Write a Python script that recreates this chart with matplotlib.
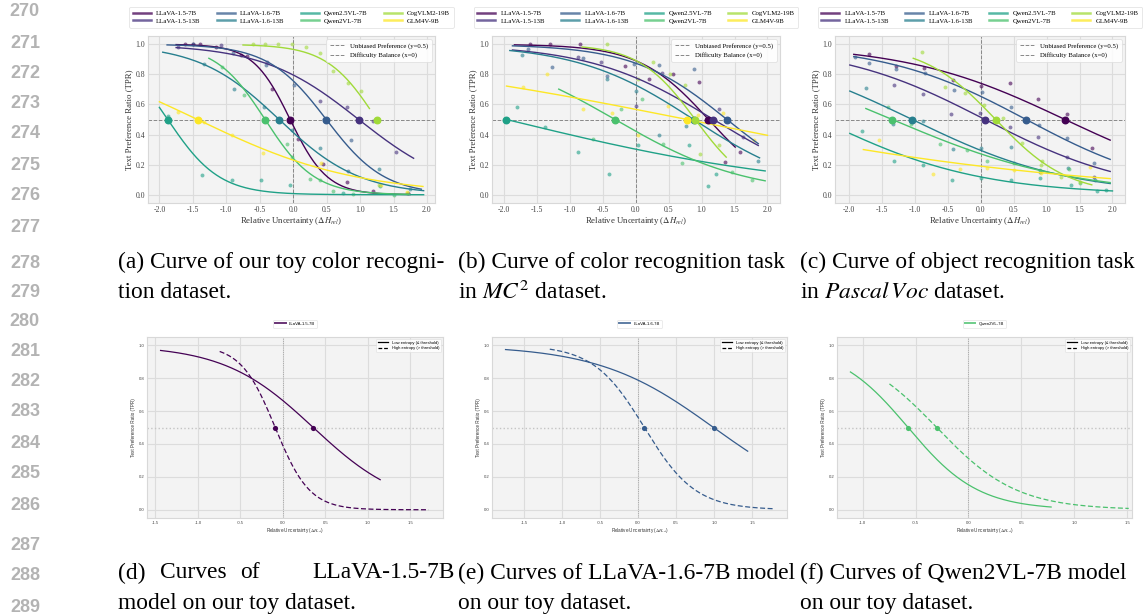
import numpy as np
import matplotlib
matplotlib.use("Agg")
import matplotlib.pyplot as plt
from matplotlib.lines import Line2D

W, H = 1145, 615

plt.rcParams["font.serif"] = ["Liberation Serif", "DejaVu Serif"]
plt.rcParams["mathtext.fontset"] = "stix"

MODELS = ["LLaVA-1.5-7B", "LLaVA-1.5-13B", "LLaVA-1.6-7B", "LLaVA-1.6-13B",
          "Qwen2.5VL-7B", "Qwen2VL-7B", "CogVLM2-19B", "GLM4V-9B"]
COLORS = [plt.cm.viridis(v) for v in np.linspace(0, 1, len(MODELS))]

# fitted logistic curves: 50% point, slope, fitted x-range
A_MID = [-0.045, 0.98, 0.495, -0.21, -1.875, -0.42, 1.25, -1.43]
A_SLOPE = [3.6, 1.39, 2.3, 1.66, 2.6, 2.71, 2.68, 0.844]
A_XMIN = [-1.75, -1.75, -1.885, -1.95, -2.0, -1.26, -0.75, -2.0]
A_XMAX = [1.75, 1.8, 1.915, 1.95, 1.95, 1.74, 1.14, 1.94]

B_MID = [1.105, 1.18, 1.385, 0.88, -1.96, -0.313, 0.904, 0.778]
B_SLOPE = [1.9, 1.06, 1.4, 1.125, 0.426, 1.003, 2.34, 0.349]
B_XMIN = [-1.84, -1.87, -1.87, -1.91, -1.96, -1.167, -0.813, -1.96]
B_XMAX = [1.51, 1.86, 1.86, 1.88, 1.965, 1.965, 1.374, 2.0]

C_MID = [1.28, 0.066, 0.689, -1.038, -2.44, -1.342, 0.228, -4.27]
C_SLOPE = [0.822, 0.894, 0.925, 0.84, 0.823, 0.735, 1.82, 0.34]
C_XMIN = [-1.925, -1.985, -1.925, -1.985, -1.985, -1.742, -1.023, -1.78]
C_XMAX = [1.965, 1.965, 1.965, 1.965, 2.0, 1.965, 1.686, 1.965]

# per-bin observations (toy color dataset)
A_PX = [[-1.62, -1.5, -1.4, -1.16, -0.785, -0.685, -0.32, 0.07, 0.45, 0.8, 1.19],
        [-1.72, -1.075, -0.385, 0.4, 0.8, 1.19, 1.54, 1.71],
        [-1.5, -0.895, -0.41, 0.015, 0.465, 0.865, 0.815],
        [-1.335, -0.885, -0.435, -0.02, 0.4, 1.29, 1.74],
        [-1.875, -1.37, -0.92, -0.485, -0.045, 0.75, 1.3],
        [-1.06, -0.735, -0.085, -0.02, 0.25, 0.4, 0.59, 0.89, 1.5],
        [-0.595, -0.42, -0.22, -0.02, 0.19, 0.4, 0.6, 0.815, 1.02, 1.28, 1.7],
        [-1.72, -1.335, -0.91, -0.45, 0.415, 1.31, 1.695]]
A_PY = [[1.0, 1.0, 1.0, 0.985, 0.93, 0.92, 0.70, 0.37, 0.205, 0.085, 0.025],
        [0.98, 0.995, 0.88, 0.625, 0.58, 0.49, 0.285, 0.01],
        [1.0, 0.945, 0.86, 0.73, 0.505, 0.365, 0.16],
        [0.87, 0.705, 0.585, 0.43, 0.31, 0.17, 0.035],
        [0.52, 0.13, 0.095, 0.095, 0.067, 0.01, 0.06],
        [0.85, 0.66, 0.335, 0.25, 0.107, 0.1, 0.025, 0.005, 0.0],
        [1.0, 1.0, 1.0, 1.0, 0.985, 0.945, 0.82, 0.74, 0.69, 0.065, 0.01],
        [0.55, 0.485, 0.40, 0.275, 0.21, 0.065, 0.015]]

# MC^2 color recognition
B_PX = [[-1.6, -1.3, -0.85, -0.167, 0.2, 0.56, 0.955, 1.36, 1.59],
        [-0.88, -0.52, 0.005, 0.4, 1.26, 1.63],
        [-1.64, -1.27, -0.8, -0.43, -0.03, 0.35, 0.88],
        [-1.73, -0.43, 0.005, 0.35, 0.77, 1.85],
        [-1.8, -1.37, -0.88, -0.4, 0.035, 0.81, 1.22, 1.1],
        [-0.64, -0.23, 0.1, 0.42, 0.7, 1.46, 1.76],
        [-0.44, 0.035, 0.27, 0.525, 0.75, 0.98, 1.26],
        [-1.71, -1.35, -0.8, -0.36, 0.04, 0.485, 0.94, 1.33, 1.8]]
B_PY = [[1.0, 1.0, 1.0, 0.853, 0.77, 0.8, 0.75, 0.22, 0.285],
        [0.915, 0.88, 0.59, 0.807, 0.573, 0.385],
        [0.97, 0.85, 0.91, 0.79, 0.867, 0.862, 0.835],
        [0.927, 0.77, 0.69, 0.4, 0.455, 0.225],
        [0.585, 0.45, 0.285, 0.14, 0.33, 0.333, 0.14, 0.056],
        [0.37, 0.571, 0.633, 0.34, 0.209, 0.15, 0.1],
        [1.0, 0.77, 0.882, 0.8, 0.73, 0.273, 0.333],
        [0.713, 0.8, 0.571, 0.54, 0.4, 0.59, 0.527, 0.544, 0.367]]

# Pascal VOC object recognition
C_PX = [[-1.7, -1.29, -0.86, -0.415, 0.0, 0.445, 0.876, 1.316, 1.696],
        [-1.317, -0.88, -0.45, -0.01, 0.445, 0.876, 1.316, 1.72],
        [-1.91, -1.7, -1.29, -0.84, -0.4, 0.015, 0.46, 0.89, 1.316, 1.72],
        [-1.74, -1.33, -0.88, -0.425, 0.0, 0.456, 0.9, 1.33, 1.74],
        [-1.8, -1.317, -0.88, -0.435, 0.01, 0.456, 0.9, 1.366, 1.77, 1.9],
        [-1.41, -1.05, -0.62, -0.2, 0.1, 0.5, 0.9, 1.34, 1.5],
        [-0.89, -0.54, -0.243, 0.05, 0.34, 0.62, 0.91, 0.93, 1.22, 1.5],
        [-1.54, -0.73, -0.31, 0.09, 0.5, 0.91, 1.66]]
C_PY = [[0.933, 0.858, 0.84, 0.762, 0.722, 0.74, 0.636, 0.536, 0.311],
        [0.729, 0.667, 0.536, 0.54, 0.45, 0.382, 0.253, 0.12],
        [0.918, 0.873, 0.833, 0.807, 0.696, 0.684, 0.584, 0.462, 0.378, 0.211],
        [0.711, 0.473, 0.493, 0.307, 0.311, 0.316, 0.151, 0.18, 0.096],
        [0.424, 0.222, 0.198, 0.1, 0.113, 0.098, 0.109, 0.062, 0.024, 0.029],
        [0.584, 0.473, 0.34, 0.296, 0.222, 0.211, 0.162, 0.173, 0.078],
        [0.947, 0.716, 0.673, 0.596, 0.513, 0.344, 0.2, 0.222, 0.118, 0.084],
        [0.367, 0.14, 0.173, 0.178, 0.167, 0.144, 0.184]]

# entropy split curves for three models on the toy dataset
SPLIT_MODELS = [0, 2, 5]
LOW_MID = [0.358, 0.994, -0.571]
LOW_SLOPE = [1.9, 1.32, 3.01]
LOW_XMIN = [-1.44, -1.742, -1.116]
LOW_XMAX = [1.146, 1.443, 0.782]
HIGH_MID = [-0.09, 0.084, -0.3]
HIGH_SLOPE = [4.94, 2.98, 2.64]
HIGH_XMIN = [-0.744, -1.16, -0.747]
HIGH_XMAX = [1.716, 1.786, 1.516]

FACE = "#f3f3f3"
GRID = "#dcdcdc"


def tpr(x, mid, slope):
    return 1.0 / (1.0 + np.exp(slope * (x - mid)))


def px_axes(fig, x0, y0, x1, y1):
    return fig.add_axes([x0 / W, 1 - y1 / H, (x1 - x0) / W, (y1 - y0) / H])


def style_axes(ax, size):
    ax.set_facecolor(FACE)
    ax.grid(True, color=GRID, lw=0.8)
    ax.set_axisbelow(True)
    for s in ax.spines.values():
        s.set_color("#d8d8d8")
        s.set_linewidth(0.8)
    ax.tick_params(length=0, labelsize=size, colors="#444444", pad=2)


def draw_overview(ax, mids, slopes, xmins, xmaxs, px, py, xlim):
    style_axes(ax, 5.6)
    for i, name in enumerate(MODELS):
        c = COLORS[i]
        ax.scatter(px[i], py[i], s=8, color=c, alpha=0.6, lw=0, zorder=2)
        xs = np.linspace(xmins[i], xmaxs[i], 200)
        ax.plot(xs, tpr(xs, mids[i], slopes[i]), color=c, lw=1.0, zorder=3)
        if -2 <= mids[i] <= 2:
            ax.scatter([mids[i]], [0.5], s=22, color=c, zorder=4)
    h1 = ax.axhline(0.5, color="#888888", ls="--", lw=0.7, zorder=1)
    h2 = ax.axvline(0, color="#888888", ls="--", lw=0.7, zorder=1)
    ax.set_xlim(*xlim)
    ax.set_ylim(-0.055, 1.055)
    ax.set_xticks(np.arange(-2, 2.01, 0.5))
    ax.set_yticks(np.arange(0, 1.01, 0.2))
    ax.xaxis.set_major_formatter(plt.FormatStrFormatter("%.1f"))
    ax.yaxis.set_major_formatter(plt.FormatStrFormatter("%.1f"))
    ax.set_xlabel(r"Relative Uncertainty ($\Delta H_{rel}$)", fontsize=6.3, labelpad=1, color="#333333")
    ax.set_ylabel("Text Preference Ratio (TPR)", fontsize=6.3, labelpad=2, color="#333333")

    inner = ax.legend([h1, h2], ["Unbiased Preference (y=0.5)", "Difficulty Balance (x=0)"],
                      loc="upper right", fontsize=4.9, frameon=True, framealpha=0.85,
                      edgecolor="#dddddd", handlelength=2.2, borderpad=0.5, labelspacing=0.5)
    inner.get_frame().set_linewidth(0.6)
    ax.add_artist(inner)

    handles = [Line2D([], [], color=c, lw=1.8, alpha=0.75) for c in COLORS]
    top = ax.legend(handles, MODELS, loc="lower center", bbox_to_anchor=(0.5, 1.03), ncol=4,
                    fontsize=4.9, frameon=True, edgecolor="#dddddd", handlelength=2.6,
                    columnspacing=2.4, labelspacing=0.3, borderpad=0.55)
    top.get_frame().set_linewidth(0.6)


def draw_split(ax, k, xlim):
    style_axes(ax, 3.1)
    c = COLORS[SPLIT_MODELS[k]]
    xs = np.linspace(LOW_XMIN[k], LOW_XMAX[k], 200)
    ax.plot(xs, tpr(xs, LOW_MID[k], LOW_SLOPE[k]), color=c, lw=0.9, zorder=3)
    xs = np.linspace(HIGH_XMIN[k], HIGH_XMAX[k], 200)
    ax.plot(xs, tpr(xs, HIGH_MID[k], HIGH_SLOPE[k]), color=c, lw=0.9, ls=(0, (4, 2)), zorder=3)
    ax.scatter([LOW_MID[k], HIGH_MID[k]], [0.5, 0.5], s=14, color=c, zorder=4, lw=0)
    ax.axhline(0.5, color="#c4c4c4", ls=":", lw=1.0, zorder=1)
    ax.axvline(0, color="#999999", ls=":", lw=0.6, zorder=1)
    ax.set_xlim(*xlim)
    ax.set_ylim(-0.05, 1.05)
    ax.set_yticks(np.arange(0, 1.01, 0.2))
    ax.xaxis.set_major_formatter(plt.FormatStrFormatter("%.1f"))
    ax.yaxis.set_major_formatter(plt.FormatStrFormatter("%.1f"))
    ax.set_xlabel(r"Relative Uncertainty ($\Delta H_{rel}$)", fontsize=3.3, labelpad=1, color="#333333")
    ax.set_ylabel("Text Preference Ratio (TPR)", fontsize=3.3, labelpad=2, color="#333333")

    ent = [Line2D([], [], color="black", lw=0.9),
           Line2D([], [], color="black", lw=0.9, ls=(0, (3, 1.5)))]
    inner = ax.legend(ent, ["Low entropy (\u2264 threshold)", "High entropy (> threshold)"],
                      loc="upper right", fontsize=3.0, frameon=True, edgecolor="#dddddd",
                      handlelength=2.5, borderpad=0.4, labelspacing=0.35)
    inner.get_frame().set_linewidth(0.5)
    ax.add_artist(inner)
    top = ax.legend([Line2D([], [], color=c, lw=1.4, alpha=0.8)], [MODELS[SPLIT_MODELS[k]]],
                    loc="lower center", bbox_to_anchor=(0.5, 1.04), fontsize=3.1, frameon=True,
                    edgecolor="#dddddd", handlelength=2.5, borderpad=0.45)
    top.get_frame().set_linewidth(0.5)


fig = plt.figure(figsize=(W / 100, H / 100), dpi=100)
fig.patch.set_facecolor("white")

with plt.rc_context({"font.family": "serif"}):
    ax_a = px_axes(fig, 148, 36, 435, 203)
    draw_overview(ax_a, A_MID, A_SLOPE, A_XMIN, A_XMAX, A_PX, A_PY, (-2.17, 2.12))
    ax_b = px_axes(fig, 492, 36, 780, 203)
    draw_overview(ax_b, B_MID, B_SLOPE, B_XMIN, B_XMAX, B_PX, B_PY, (-2.18, 2.19))
    ax_c = px_axes(fig, 835, 36, 1125, 203)
    draw_overview(ax_c, C_MID, C_SLOPE, C_XMIN, C_XMAX, C_PX, C_PY, (-2.21, 2.19))

with plt.rc_context({"font.family": "Liberation Sans"}):
    ax_d = px_axes(fig, 147, 337, 443, 518)
    draw_split(ax_d, 0, (-1.6, 1.886))
    ax_e = px_axes(fig, 492, 337, 787, 518)
    draw_split(ax_e, 1, (-1.92, 1.96))
    ax_f = px_axes(fig, 837, 337, 1132, 518)
    draw_split(ax_f, 2, (-1.243, 1.547))

# captions
cap = dict(fontsize=16.9, family="Liberation Serif", va="center", ha="left", color="black")
def put(x, y, s, **kw):
    d = dict(cap)
    d.update(kw)
    fig.text(x / W, 1 - y / H, s, **d)

put(118, 262, "(a) Curve of our toy color recogni-")
put(118, 292, "tion dataset.")
put(458, 262, "(b) Curve of color recognition task")
put(458, 292, r"in $MC^2$ dataset.")
put(800, 262, "(c) Curve of object recognition task")
put(800, 292, r"in $Pascal\,Voc$ dataset.")

put(118, 573, "(d)")
put(160, 573, "Curves")
put(240, 573, "of")
put(455, 573, "LLaVA-1.5-7B", ha="right")
put(118, 603, "model on our toy dataset.")
put(458, 573, "(e) Curves of LLaVA-1.6-7B model")
put(458, 603, "on our toy dataset.")
put(800, 573, "(f) Curves of Qwen2VL-7B model")
put(800, 603, "on our toy dataset.")

# page line numbers
LINE_NO = list(range(270, 290))
LINE_Y = [12, 44, 74, 104, 134, 166, 196, 228, 264, 292, 322, 352, 382, 412, 443, 474, 505, 545, 576, 607]
for n, y in zip(LINE_NO, LINE_Y):
    fig.text(40 / W, 1 - y / H, str(n), fontsize=13, family="Liberation Sans", weight="bold",
             color="#b3b3b3", ha="right", va="center")

fig.savefig("out.png", dpi=100)
